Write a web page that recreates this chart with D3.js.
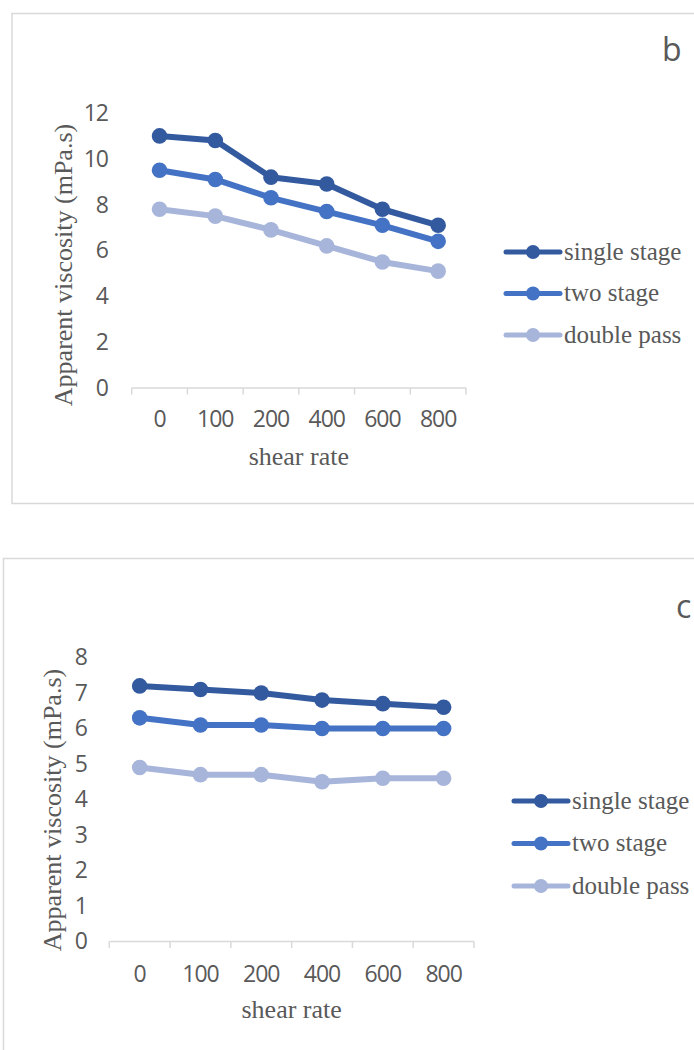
<!DOCTYPE html>
<html>
<head>
<meta charset="utf-8">
<script src="https://cdn.jsdelivr.net/npm/d3@7"></script>
<style>
  html, body { margin: 0; padding: 0; background: #fff; overflow: hidden; }
  svg { display: block; }
</style>
</head>
<body>
<svg id="graph"></svg>
<script>
var width = 694, height = 1050;

// data
var shearRates = ["0", "100", "200", "400", "600", "800"];
var seriesNames = ["single stage", "two stage", "double pass"];
var seriesColors = ["#335a9f", "#4472c4", "#a7b5da"];

var bSingle = [11.0, 10.8, 9.2, 8.9, 7.8, 7.1];
var bTwo = [9.5, 9.1, 8.3, 7.7, 7.1, 6.4];
var bDouble = [7.8, 7.5, 6.9, 6.2, 5.5, 5.1];
var bTicks = [0, 2, 4, 6, 8, 10, 12];

var cSingle = [7.2, 7.1, 7.0, 6.8, 6.7, 6.6];
var cTwo = [6.3, 6.1, 6.1, 6.0, 6.0, 6.0];
var cDouble = [4.9, 4.7, 4.7, 4.5, 4.6, 4.6];
var cTicks = [0, 1, 2, 3, 4, 5, 6, 7, 8];

var svg = d3.select("#graph")
	.attr("width", width)
	.attr("height", height);

var grey = "#595959";
var serif = "'Liberation Serif', 'Times New Roman', serif";
var sans = "'Open Sans', 'Noto Sans', sans-serif";

function drawPanel(p) {
	var g = svg.append("g");

	// frame
	g.append("rect")
		.attr("x", p.box[0])
		.attr("y", p.box[1])
		.attr("width", p.box[2])
		.attr("height", p.box[3])
		.attr("fill", "none")
		.attr("stroke", "#d9d9d9")
		.attr("stroke-width", 1.5);

	var x = d3.scaleBand()
		.domain(shearRates)
		.range([p.left, p.right])
		.padding(0);
	var y = d3.scaleLinear()
		.domain([0, p.ticks[p.ticks.length - 1]])
		.range([p.bottom, p.top]);

	// x axis line + ticks between categories
	var edges = shearRates.map(d => x(d)).concat([p.right]);
	g.append("line")
		.attr("x1", p.left).attr("x2", p.right)
		.attr("y1", p.bottom).attr("y2", p.bottom)
		.attr("stroke", "#d9d9d9")
		.attr("stroke-width", 1.5);
	g.selectAll(".xtick")
		.data(edges)
		.enter()
		.append("line")
		.attr("x1", d => d).attr("x2", d => d)
		.attr("y1", p.bottom).attr("y2", p.bottom + 6.5)
		.attr("stroke", "#d9d9d9")
		.attr("stroke-width", 1.5);

	var xAxis = g.append("g")
		.attr("transform", "translate(0," + p.bottom + ")")
		.call(d3.axisBottom(x).tickSize(0).tickPadding(p.xLabelPad));
	xAxis.select(".domain").remove();
	xAxis.selectAll("text")
		.attr("font-family", sans)
		.attr("font-size", "23px")
		.attr("letter-spacing", "-1px")
		.attr("fill", grey);

	var yAxis = g.append("g")
		.attr("transform", "translate(" + p.yLabelX + ",0)")
		.call(d3.axisLeft(y).tickValues(p.ticks).tickSize(0).tickPadding(0).tickFormat(d3.format("d")));
	yAxis.select(".domain").remove();
	yAxis.selectAll("text")
		.attr("font-family", sans)
		.attr("font-size", "23px")
		.attr("letter-spacing", "-1px")
		.attr("fill", grey);

	// axis titles
	g.append("text")
		.attr("transform", "translate(" + p.yTitle[0] + "," + p.yTitle[1] + ") rotate(-90)")
		.attr("text-anchor", "middle")
		.attr("font-family", serif)
		.attr("font-size", "26px")
		.attr("fill", grey)
		.text("Apparent viscosity (mPa.s)");
	g.append("text")
		.attr("x", (p.left + p.right) / 2)
		.attr("y", p.xTitleY)
		.attr("text-anchor", "middle")
		.attr("font-family", serif)
		.attr("font-size", "26px")
		.attr("fill", grey)
		.text("shear rate");

	// panel letter
	g.append("text")
		.attr("x", p.letter[0])
		.attr("y", p.letter[1])
		.attr("font-family", sans)
		.attr("font-size", "32px")
		.attr("fill", grey)
		.text(p.letter[2]);

	var line = d3.line()
		.x((d, i) => x(shearRates[i]) + x.bandwidth() / 2)
		.y(d => y(d));

	p.series.forEach(function (vals, k) {
		g.append("path")
			.datum(vals)
			.attr("d", line)
			.attr("fill", "none")
			.attr("stroke", seriesColors[k])
			.attr("stroke-width", 6)
			.attr("stroke-linejoin", "round");
		g.selectAll(".pt" + k)
			.data(vals)
			.enter()
			.append("circle")
			.attr("cx", (d, i) => x(shearRates[i]) + x.bandwidth() / 2)
			.attr("cy", d => y(d))
			.attr("r", 7.8)
			.attr("fill", seriesColors[k]);
	});

	// legend
	var lg = g.selectAll(".legend")
		.data(seriesNames)
		.enter()
		.append("g")
		.attr("transform", (d, i) => "translate(" + p.legend[0] + "," + (p.legend[1] + i * p.legend[2]) + ")");
	lg.append("line")
		.attr("x1", 0).attr("x2", 54)
		.attr("y1", 0).attr("y2", 0)
		.attr("stroke", (d, i) => seriesColors[i])
		.attr("stroke-width", 5)
		.attr("stroke-linecap", "round");
	lg.append("circle")
		.attr("cx", 27).attr("cy", 0)
		.attr("r", 7)
		.attr("fill", (d, i) => seriesColors[i]);
	lg.append("text")
		.attr("x", 58)
		.attr("y", 0)
		.attr("dy", "0.3em")
		.attr("font-family", serif)
		.attr("font-size", "25px")
		.attr("fill", grey)
		.text(d => d);
}

drawPanel({
	box: [12, 13.5, 700, 490],
	left: 131.7, right: 466, top: 113, bottom: 388,
	ticks: bTicks,
	series: [bSingle, bTwo, bDouble],
	xLabelPad: 23, yLabelX: 108,
	yTitle: [72, 265], xTitleY: 465,
	letter: [662, 61, "b"],
	legend: [506, 252, 41.5]
});

drawPanel({
	box: [3.5, 558.5, 710, 520],
	left: 109.3, right: 474, top: 657.5, bottom: 941.5,
	ticks: cTicks,
	series: [cSingle, cTwo, cDouble],
	xLabelPad: 24, yLabelX: 87,
	yTitle: [61, 810], xTitleY: 1018,
	letter: [676, 618, "c"],
	legend: [514, 801, 42.5]
});
</script>
</body>
</html>
